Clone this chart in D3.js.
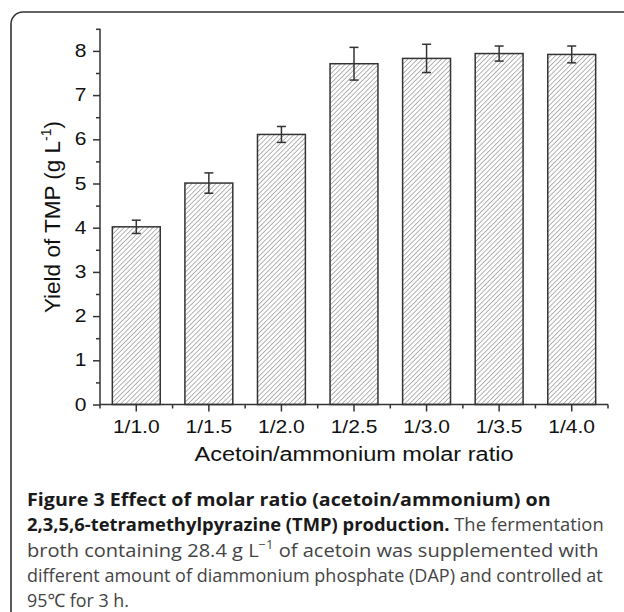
<!DOCTYPE html>
<html>
<head>
<meta charset="utf-8">
<script src="https://cdn.jsdelivr.net/npm/d3@7"></script>
<style>
  html, body { margin: 0; padding: 0; background: #fff; }
  svg { display: block; }
</style>
</head>
<body>
<svg id="chart" width="624" height="612"></svg>
<script>
const categories = ["1/1.0", "1/1.5", "1/2.0", "1/2.5", "1/3.0", "1/3.5", "1/4.0"];
const values = [4.02, 5.01, 6.11, 7.71, 7.83, 7.94, 7.92];
const errors = [0.15, 0.23, 0.18, 0.37, 0.32, 0.17, 0.19];
const yTicks = [0, 1, 2, 3, 4, 5, 6, 7, 8];
const yMinorTicks = [0.5, 1.5, 2.5, 3.5, 4.5, 5.5, 6.5, 7.5, 8.5];

const svg = d3.select("#chart");
const axisColor = "#333";
const arial = "'Liberation Sans', Arial, sans-serif";
const stretch = 1.2;

// frame with rounded top-left corner
svg.append("path")
  .attr("d", "M11,613 L11,24 A12,12 0 0 1 23,12 L625,12")
  .attr("fill", "none").attr("stroke", "#333").attr("stroke-width", 1.6);

const defs = svg.append("defs");
const pat = defs.append("pattern")
  .attr("id", "hatch").attr("patternUnits", "userSpaceOnUse")
  .attr("width", 3.4).attr("height", 3.4)
  .attr("patternTransform", "rotate(45)");
pat.append("rect").attr("width", 3.4).attr("height", 3.4).attr("fill", "#fff");
pat.append("line").attr("x1", 0).attr("y1", 0).attr("x2", 0).attr("y2", 3.4)
  .attr("stroke", "#777").attr("stroke-width", 1.1);

const x = d3.scaleBand().domain(categories).range([100, 608]).paddingInner(0.34).paddingOuter(0.17);
const y = d3.scaleLinear().domain([0, 8.5]).range([404.5, 28.8]);

// bars
svg.append("g").selectAll("rect").data(categories).join("rect")
  .attr("x", d => x(d))
  .attr("width", x.bandwidth())
  .attr("y", (d, i) => y(values[i]))
  .attr("height", (d, i) => y(0) - y(values[i]))
  .attr("fill", "url(#hatch)")
  .attr("stroke", "#333").attr("stroke-width", 1.5);

// error bars
const eb = svg.append("g").attr("stroke", "#333").attr("stroke-width", 1.5);
categories.forEach((c, i) => {
  const cx = x(c) + x.bandwidth() / 2;
  const y1 = y(values[i] + errors[i]), y2 = y(values[i] - errors[i]);
  eb.append("line").attr("x1", cx).attr("x2", cx).attr("y1", y1).attr("y2", y2);
  eb.append("line").attr("x1", cx - 4.5).attr("x2", cx + 4.5).attr("y1", y1).attr("y2", y1);
  eb.append("line").attr("x1", cx - 4.5).attr("x2", cx + 4.5).attr("y1", y2).attr("y2", y2);
});

// y axis
const yAxis = d3.axisLeft(y).tickValues(yTicks).tickSize(7).tickPadding(6).tickFormat(d3.format("d"));
const gy = svg.append("g").attr("transform", "translate(100,0)").call(yAxis);
gy.select(".domain").attr("d", `M0,${y(8.5)}V${y(0)}`);
const gyMinor = svg.append("g").attr("transform", "translate(100,0)")
  .call(d3.axisLeft(y).tickValues(yMinorTicks).tickSize(4).tickFormat(""));
gyMinor.select(".domain").remove();

// x axis
const xAxis = d3.axisBottom(x).tickSize(7).tickPadding(9);
const gx = svg.append("g").attr("transform", `translate(0,${y(0)})`).call(xAxis);
gx.select(".domain").attr("d", `M100,0H608`);
const bounds = [100].concat(categories.map(c => x(c) + x.bandwidth() / 2 + x.step() / 2));
const gxMinor = svg.append("g").attr("transform", `translate(0,${y(0)})`);
gxMinor.selectAll("line").data(bounds).join("line")
  .attr("x1", d => d).attr("x2", d => d).attr("y1", 0).attr("y2", 4)
  .attr("stroke", axisColor).attr("stroke-width", 1.5);

[gy, gyMinor, gx].forEach(g => {
  g.selectAll("path, line").attr("stroke", axisColor).attr("stroke-width", 1.5);
  g.selectAll("text").attr("fill", "#111")
    .attr("font-family", arial).attr("font-size", 17.5);
});
gx.selectAll(".tick text").attr("transform", `scale(${stretch},1)`);
gy.selectAll(".tick text").attr("x", -13.5 / stretch).attr("transform", `scale(${stretch},1)`);

// axis titles
svg.append("text")
  .attr("x", 354).attr("y", 461)
  .attr("text-anchor", "middle")
  .attr("font-family", arial).attr("font-size", 20)
  .attr("textLength", 319).attr("lengthAdjust", "spacingAndGlyphs")
  .attr("fill", "#111")
  .text("Acetoin/ammonium molar ratio");

const yt = svg.append("text")
  .attr("transform", "translate(60,217) rotate(-90)")
  .attr("text-anchor", "middle")
  .attr("font-family", arial).attr("font-size", 22.5)
  .attr("fill", "#111");
yt.append("tspan").text("Yield of TMP (g L");
yt.append("tspan").attr("font-size", 14).attr("dy", -9).text("-1");
yt.append("tspan").attr("dy", 9).text(")");

// caption
const capFont = "'Open Sans', 'Noto Sans', sans-serif";
const lines = [
  { parts: [["b", "Figure 3 Effect of molar ratio (acetoin/ammonium) on"]], y: 505.5, len: 524 },
  { parts: [["b", "2,3,5,6-tetramethylpyrazine (TMP) production."], ["r", " The fermentation"]], y: 531, len: 577 },
  { parts: [["r", "broth containing 28.4 g L"], ["sup", "\u22121"], ["r2", " of acetoin was supplemented with"]], y: 556.5, len: 572 },
  { parts: [["r", "different amount of diammonium phosphate (DAP) and controlled at"]], y: 582, len: 576 },
  { parts: [["r", "95\u2103 for 3 h."]], y: 607, len: 102 }
];
lines.forEach(l => {
  const t = svg.append("text").attr("x", 0).attr("y", 0)
    .attr("font-family", capFont).attr("font-size", 18.5);
  l.parts.forEach(([k, s]) => {
    const ts = t.append("tspan").text(s);
    if (k === "b") ts.attr("font-weight", "bold").attr("fill", "#1a1a1a");
    else ts.attr("fill", "#444");
    if (k === "sup") ts.attr("font-size", 12).attr("dy", -8);
    if (k === "r2") ts.attr("dy", 8);
  });
  const natural = t.node().getComputedTextLength();
  const k = natural > 0 ? l.len / natural : 1;
  t.attr("transform", `translate(27,${l.y}) scale(${k},1)`);
});
</script>
</body>
</html>
